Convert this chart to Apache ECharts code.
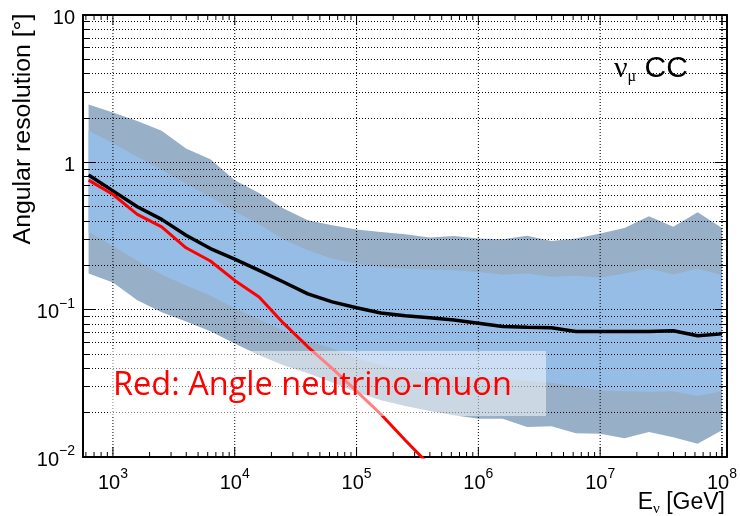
<!DOCTYPE html>
<html>
<head>
<meta charset="utf-8">
<script src="https://cdn.jsdelivr.net/npm/echarts@6/dist/echarts.min.js"></script>
<style>
  html, body { margin: 0; padding: 0; background: #ffffff; }
  #chart { width: 740px; height: 516px; }
</style>
</head>
<body>
<div id="chart"></div>
<script>
// Neutrino energy bin centres [GeV]
const energy = [631, 1000, 1585, 2512, 3981, 6310, 1.0e4, 1.585e4, 2.512e4, 3.981e4, 6.31e4,
  1.0e5, 1.585e5, 2.512e5, 3.981e5, 6.31e5, 1.0e6, 1.585e6, 2.512e6, 3.981e6, 6.31e6,
  1.0e7, 1.585e7, 2.512e7, 3.981e7, 6.31e7, 1.0e8];

// Median angular resolution [deg]
const median = [0.82, 0.64, 0.50, 0.41, 0.32, 0.26, 0.22, 0.185, 0.154, 0.128, 0.113,
  0.103, 0.095, 0.091, 0.088, 0.085, 0.081, 0.077, 0.076, 0.0755, 0.071,
  0.071, 0.071, 0.071, 0.072, 0.0665, 0.0685];

// Kinematic angle between neutrino and muon [deg]
const neutrinoMuonAngle = [0.757, 0.605, 0.443, 0.365, 0.263, 0.214, 0.158, 0.122, 0.081, 0.056, 0.040,
  0.028, 0.0195, 0.0130, 0.0088];

// Inner band (light blue)
const innerUpper = [1.64, 1.35, 1.09, 0.89, 0.715, 0.582, 0.463, 0.38, 0.30, 0.253, 0.222,
  0.206, 0.195, 0.190, 0.187, 0.185, 0.180, 0.173, 0.176, 0.167, 0.170,
  0.165, 0.176, 0.190, 0.173, 0.190, 0.171];
const innerLower = [0.337, 0.27, 0.215, 0.173, 0.146, 0.125, 0.102, 0.086, 0.072, 0.061, 0.0547,
  0.047, 0.042, 0.039, 0.0376, 0.0358, 0.0344, 0.0337, 0.0329, 0.0319, 0.030,
  0.0283, 0.0279, 0.0277, 0.0279, 0.0259, 0.0279];

// Outer band (grey blue)
const outerUpper = [2.47, 2.18, 1.91, 1.64, 1.24, 1.05, 0.757, 0.62, 0.486, 0.405, 0.374,
  0.35, 0.337, 0.325, 0.309, 0.316, 0.304, 0.301, 0.317, 0.292, 0.304,
  0.329, 0.359, 0.431, 0.365, 0.459, 0.359];
const outerLower = [0.176, 0.153, 0.116, 0.096, 0.083, 0.0713, 0.059, 0.049, 0.0419, 0.037, 0.032,
  0.0275, 0.0243, 0.0222, 0.0205, 0.0192, 0.0182, 0.0182, 0.016, 0.0162, 0.0145,
  0.0144, 0.0134, 0.0148, 0.0136, 0.0123, 0.0152];

// Axis ranges and decade labels
const xRange = [568, 1.094e8];
const yRange = [0.01, 10];
const xDecades = [1e2, 1e3, 1e4, 1e5, 1e6, 1e7, 1e8];
const yTickText = { '0.01': '{b|10}{s|−2}', '0.1': '{b|10}{s|−1}', '1': '{b|1}', '10': '{b|10}' };

// Tick positions along the energy axis: 1..9 times each decade, inside the range
const xTickValues = [];
xDecades.forEach(d => {
  for (let m = 1; m <= 9; m++) {
    const v = m * d;
    if (v > xRange[0] && v < xRange[1] * 0.999) xTickValues.push(v);
  }
});
xTickValues.push(1e8);

const labelFont = 'Liberation Sans';
const labelRich = {
  b: { fontSize: 20, fontFamily: labelFont, color: '#000', lineHeight: 26, verticalAlign: 'bottom' },
  s: { fontSize: 14, fontFamily: labelFont, color: '#000', lineHeight: 14, verticalAlign: 'top' }
};

function isDecade(v) {
  const l = Math.log10(v);
  return Math.abs(l - Math.round(l)) < 1e-6;
}

const dotted = { color: '#000', width: 1, type: [1, 2] };
const frame = { color: '#000', width: 2 };

function bandSeries(upper, lower, color) {
  return {
    type: 'custom',
    z: 1,
    silent: true,
    data: energy.map((e, i) => [e, lower[i], upper[i]]),
    encode: { x: 0, y: [1, 2] },
    renderItem: function (params, api) {
      if (params.dataIndex !== 0) return null;
      const pts = [];
      for (let i = 0; i < energy.length; i++) pts.push(api.coord([energy[i], upper[i]]));
      for (let i = energy.length - 1; i >= 0; i--) pts.push(api.coord([energy[i], lower[i]]));
      return { type: 'polygon', shape: { points: pts }, style: { fill: color } };
    }
  };
}

// Energy-axis ticks on bottom and top edges, dotted grid at each decade
const xTickSeries = {
  type: 'custom',
  z: 2,
  silent: true,
  clip: false,
  data: xTickValues.map(v => [v, yRange[0]]),
  encode: { x: 0, y: 1 },
  renderItem: function (params, api) {
    const v = api.value(0);
    const pb = api.coord([v, yRange[0]]);
    const pt = api.coord([v, yRange[1]]);
    const major = isDecade(v);
    const len = major ? 10 : 5;
    const children = [
      { type: 'line', shape: { x1: pb[0], y1: pb[1], x2: pb[0], y2: pb[1] - len }, style: { stroke: '#000', lineWidth: 1 } },
      { type: 'line', shape: { x1: pt[0], y1: pt[1], x2: pt[0], y2: pt[1] + len }, style: { stroke: '#000', lineWidth: 1 } }
    ];
    if (major) {
      children.push({ type: 'line', shape: { x1: pb[0], y1: pb[1], x2: pt[0], y2: pt[1] },
        style: { stroke: '#000', lineWidth: 1, lineDash: [1, 2] } });
    }
    return { type: 'group', children: children };
  }
};

const chart = echarts.init(document.getElementById('chart'), null, { renderer: 'canvas' });

chart.setOption({
  animation: false,
  backgroundColor: '#ffffff',
  grid: { left: 83, right: 13, top: 15, bottom: 59, containLabel: false },
  xAxis: [
    {
      type: 'log', logBase: 10, min: xRange[0], max: xRange[1], position: 'bottom', z: 2,
      axisLine: { lineStyle: frame },
      axisTick: { show: false },
      minorTick: { show: false },
      splitLine: { show: false },
      axisLabel: {
        margin: 10,
        formatter: v => isDecade(v) ? '{b|10}{s|' + Math.round(Math.log10(v)) + '}' : '',
        rich: labelRich
      }
    },
    {
      type: 'log', logBase: 10, min: xRange[0], max: xRange[1], position: 'top', z: 2,
      axisLine: { lineStyle: frame },
      axisTick: { show: false },
      minorTick: { show: false },
      splitLine: { show: false },
      axisLabel: { show: false }
    }
  ],
  yAxis: [
    {
      type: 'log', logBase: 10, min: yRange[0], max: yRange[1], position: 'left', z: 2,
      axisLine: { lineStyle: frame },
      axisTick: { inside: true, length: 12, lineStyle: { color: '#000', width: 1 } },
      minorTick: { show: true, splitNumber: 9, length: 7, lineStyle: { color: '#000', width: 1 } },
      splitLine: { show: true, lineStyle: dotted },
      minorSplitLine: { show: true, lineStyle: dotted },
      axisLabel: {
        margin: 8,
        formatter: v => yTickText[String(+v.toPrecision(6))] || '',
        rich: labelRich
      }
    },
    {
      type: 'log', logBase: 10, min: yRange[0], max: yRange[1], position: 'right', z: 2,
      axisLine: { lineStyle: frame },
      axisTick: { inside: true, length: 12, lineStyle: { color: '#000', width: 1 } },
      minorTick: { show: true, splitNumber: 9, length: 7, lineStyle: { color: '#000', width: 1 } },
      splitLine: { show: false },
      axisLabel: { show: false }
    }
  ],
  series: [
    bandSeries(outerUpper, outerLower, '#98afc8'),
    bandSeries(innerUpper, innerLower, '#96bde6'),
    xTickSeries,
    {
      type: 'line', z: 3, silent: true, symbol: 'none', clip: true,
      data: energy.map((e, i) => [e, median[i]]),
      lineStyle: { color: '#000000', width: 3.5 }
    },
    {
      type: 'line', z: 3, silent: true, symbol: 'none', clip: true,
      data: neutrinoMuonAngle.map((v, i) => [energy[i], v]),
      lineStyle: { color: '#ff0000', width: 3 }
    }
  ],
  graphic: [
    {
      type: 'rect', z: 10, silent: true,
      shape: { x: 108, y: 351, width: 438, height: 65 },
      style: { fill: 'rgba(255,255,255,0.5)' }
    },
    {
      type: 'text', z: 11, silent: true, x: 113, y: 386,
      style: { text: 'Red: Angle neutrino-muon', fill: '#ff0000', font: '32.5px "Open Sans"', verticalAlign: 'middle' }
    },
    {
      type: 'text', z: 11, silent: true, x: 614, y: 69,
      style: {
        text: '{n|ν}{m|μ}{c| CC}', verticalAlign: 'middle',
        rich: {
          n: { fontSize: 30, fontFamily: 'Liberation Serif', fill: '#000', lineHeight: 32, verticalAlign: 'middle' },
          m: { fontSize: 16, fontFamily: 'Liberation Serif', fill: '#000', lineHeight: 32, verticalAlign: 'bottom' },
          c: { fontSize: 30, fontFamily: labelFont, fill: '#000', lineHeight: 32, verticalAlign: 'middle' }
        }
      }
    },
    {
      type: 'text', z: 11, silent: true, x: 24, y: 129, rotation: Math.PI / 2, scaleX: 1.08,
      style: { text: 'Angular resolution [°]', fill: '#000', font: '23px "Liberation Sans"', align: 'center', verticalAlign: 'middle' }
    },
    {
      type: 'text', z: 11, silent: true, x: 725, y: 503,
      style: {
        text: '{e|E}{v|ν}{e| [GeV]}', align: 'right', verticalAlign: 'middle',
        rich: {
          e: { fontSize: 23, fontFamily: labelFont, fill: '#000', lineHeight: 28, verticalAlign: 'middle' },
          v: { fontSize: 15, fontFamily: 'Liberation Serif', fill: '#000', lineHeight: 28, verticalAlign: 'bottom' }
        }
      }
    }
  ]
});
</script>
</body>
</html>
